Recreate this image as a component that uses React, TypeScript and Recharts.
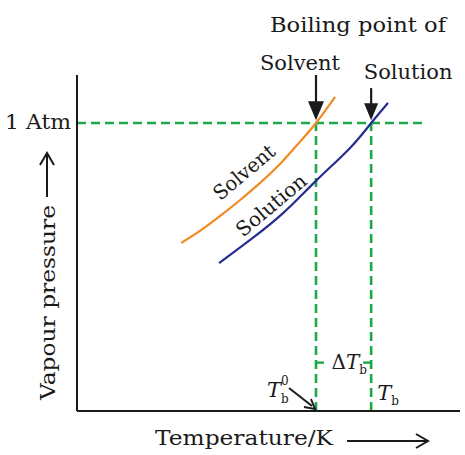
import React from 'react'
import { LineChart, Line, XAxis, YAxis, ReferenceLine, ReferenceDot } from 'recharts'

// vapour pressure curves (arbitrary units, 0..100)
const solventT = [27.2, 32.1, 37.3, 42.6, 47.8, 53.0, 58.2, 62.4, 67.4]
const solventP = [50.0, 53.6, 58.0, 62.8, 67.9, 73.5, 80.1, 85.7, 93.5]
const solutionT = [37.1, 45.2, 53.8, 62.4, 71.3, 76.8, 81.2]
const solutionP = [44.0, 50.9, 58.9, 68.5, 78.3, 85.7, 91.7]

const ATM = 85.7 // 1 atm level
const TB0 = 62.4 // boiling point of solvent
const TB = 76.8 // boiling point of solution
const ATM_END = 90.3
const DELTA_Y = 14.4

const solventData = solventT.map((t, i) => ({ t, p: solventP[i] }))
const solutionData = solutionT.map((t, i) => ({ t, p: solutionP[i] }))

const FONT = '"DejaVu Serif", "Liberation Serif", serif'
const INK = '#1a1a1a'
const GREEN = '#1ea84a'
const ORANGE = '#f28a22'
const NAVY = '#262d8e'

const dash = { stroke: GREEN, strokeWidth: 2.6, strokeDasharray: '9 5' }

// down arrow with its caption above
const downArrow = (label: string, dx: number, gap: number, len: number, half: number) => (props: any) => {
  const { x1, y1, x2, y2 } = props
  return (
    <g>
      <line x1={x1} y1={y1} x2={x2} y2={y2 - len + 2} stroke={INK} strokeWidth={2.2} />
      <polygon points={`${x2 - half},${y2 - len} ${x2 + half},${y2 - len} ${x2},${y2}`} fill={INK} />
      <text x={x1 + dx} y={y1 - gap} textAnchor="middle" fontFamily={FONT} fontSize={21} fill={INK}>
        {label}
      </text>
    </g>
  )
}

const curveLabel = (label: string, len: number) => (props: any) => {
  const { cx, cy } = props
  return (
    <text
      x={cx}
      y={cy}
      dy="0.35em"
      textAnchor="middle"
      transform={`rotate(-40 ${cx} ${cy})`}
      fontFamily={FONT}
      fontSize={20}
      fill={INK}
      textLength={len}
      lengthAdjust="spacingAndGlyphs"
    >
      {label}
    </text>
  )
}

const deltaMark = (props: any) => {
  const { x1, y1, x2, y2 } = props
  const mid = (x1 + x2) / 2
  return (
    <g>
      <line x1={x1} y1={y1} x2={x1 + 8} y2={y2} stroke={GREEN} strokeWidth={2.4} />
      <line x1={x2 - 8} y1={y1} x2={x2} y2={y2} stroke={GREEN} strokeWidth={2.4} />
      <text x={mid - 12} y={y1 + 6} fontFamily={FONT} fontSize={20} fill={INK}>
        Δ<tspan fontStyle="italic">T</tspan>
        <tspan dy={5} fontSize={12}>b</tspan>
      </text>
    </g>
  )
}

const tb0Mark = (props: any) => {
  const { cx, cy } = props
  const tx = cx - 1
  const ty = cy - 2
  return (
    <g>
      <line x1={cx - 27} y1={cy - 23} x2={tx - 3} y2={ty - 3} stroke={INK} strokeWidth={2} />
      <polyline points={`${tx - 11},${ty - 2} ${tx},${ty} ${tx - 4},${ty - 10}`} fill="none" stroke={INK} strokeWidth={2} />
      <text x={cx - 49} y={cy - 14} fontFamily={FONT} fontSize={21} fill={INK}>
        <tspan fontStyle="italic">T</tspan>
        <tspan x={cx - 35} dy={-12} fontSize={12}>0</tspan>
        <tspan x={cx - 35} dy={18} fontSize={12}>b</tspan>
      </text>
    </g>
  )
}

const tbMark = (props: any) => {
  const { cx, cy } = props
  return (
    <text x={cx + 6} y={cy - 11} fontFamily={FONT} fontSize={21} fill={INK}>
      <tspan fontStyle="italic">T</tspan>
      <tspan dy={5} fontSize={12}>b</tspan>
    </text>
  )
}

const atmTick = (props: any) => {
  const { x, y } = props
  return (
    <text x={x} y={y + 6} textAnchor="end" fontFamily={FONT} fontSize={20} fill={INK} textLength={66} lengthAdjust="spacingAndGlyphs">
      1 Atm
    </text>
  )
}

const xLabel = (props: any) => {
  const { x, y } = props.viewBox
  const ay = y + 30
  return (
    <g>
      <text x={x + 78} y={y + 34} fontFamily={FONT} fontSize={21} fill={INK} textLength={178} lengthAdjust="spacingAndGlyphs">
        Temperature/K
      </text>
      <line x1={x + 270} y1={ay} x2={x + 350} y2={ay} stroke={INK} strokeWidth={2} />
      <polyline points={`${x + 339},${ay - 7} ${x + 351},${ay} ${x + 339},${ay + 7}`} fill="none" stroke={INK} strokeWidth={2} />
    </g>
  )
}

const yLabel = (props: any) => {
  const { x, y, width } = props.viewBox
  const ax0 = x + width // axis line position
  const ax = ax0 - 30
  const bx = ax0 - 22
  return (
    <g>
      <text
        x={bx}
        y={y + 325}
        transform={`rotate(-90 ${bx} ${y + 325})`}
        fontFamily={FONT}
        fontSize={21}
        fill={INK}
        textLength={195}
        lengthAdjust="spacingAndGlyphs"
      >
        Vapour pressure
      </text>
      <line x1={ax} y1={y + 122} x2={ax} y2={y + 79} stroke={INK} strokeWidth={2} />
      <polyline points={`${ax - 7},${y + 90} ${ax},${y + 78} ${ax + 7},${y + 90}`} fill="none" stroke={INK} strokeWidth={2} />
    </g>
  )
}

export default function App() {
  return (
    <div style={{ position: 'absolute', left: 0, top: 0, width: 465, height: 455, background: '#fff' }}>
      <LineChart width={465} height={455} margin={{ top: 75, right: 5, left: 76, bottom: 43 }}>
        <XAxis
          type="number"
          dataKey="t"
          domain={[0, 100]}
          height={1}
          tick={false}
          tickLine={false}
          axisLine={{ stroke: INK, strokeWidth: 2 }}
          label={{ content: xLabel }}
        />
        <YAxis
          type="number"
          domain={[0, 100]}
          width={1}
          ticks={[ATM]}
          tickLine={false}
          tickSize={0}
          tickMargin={6}
          tick={atmTick}
          axisLine={{ stroke: INK, strokeWidth: 2 }}
          label={{ content: yLabel }}
        />
        <ReferenceLine segment={[{ x: 0, y: ATM }, { x: ATM_END, y: ATM }]} {...dash} ifOverflow="visible" />
        <ReferenceLine segment={[{ x: TB0, y: 0 }, { x: TB0, y: ATM }]} {...dash} ifOverflow="visible" />
        <ReferenceLine segment={[{ x: TB, y: 0 }, { x: TB, y: ATM }]} {...dash} ifOverflow="visible" />
        <ReferenceLine segment={[{ x: TB0, y: DELTA_Y }, { x: TB, y: DELTA_Y }]} shape={deltaMark} ifOverflow="visible" />
        <Line data={solventData} dataKey="p" type="natural" stroke={ORANGE} strokeWidth={2.2} dot={false} isAnimationActive={false} />
        <Line data={solutionData} dataKey="p" type="natural" stroke={NAVY} strokeWidth={2.2} dot={false} isAnimationActive={false} />
        <ReferenceLine segment={[{ x: TB0, y: 100 }, { x: TB0, y: ATM + 0.8 }]} shape={downArrow('Solvent', -16, 5, 19, 8)} ifOverflow="visible" />
        <ReferenceLine segment={[{ x: TB, y: 96.1 }, { x: TB, y: ATM + 0.8 }]} shape={downArrow('Solution', 37, 9, 17, 7)} ifOverflow="visible" />
        <ReferenceDot x={43.6} y={71.1} shape={curveLabel('Solvent', 74)} ifOverflow="visible" />
        <ReferenceDot x={50.7} y={61.3} shape={curveLabel('Solution', 85)} ifOverflow="visible" />
        <ReferenceDot x={TB0} y={0} shape={tb0Mark} ifOverflow="visible" />
        <ReferenceDot x={TB} y={0} shape={tbMark} ifOverflow="visible" />
      </LineChart>
      <svg width={465} height={60} style={{ position: 'absolute', left: 0, top: 0, pointerEvents: 'none' }}>
        <text x={358} y={32} textAnchor="middle" fontFamily={FONT} fontSize={21} fill={INK} textLength={176} lengthAdjust="spacingAndGlyphs">
          Boiling point of
        </text>
      </svg>
    </div>
  )
}
